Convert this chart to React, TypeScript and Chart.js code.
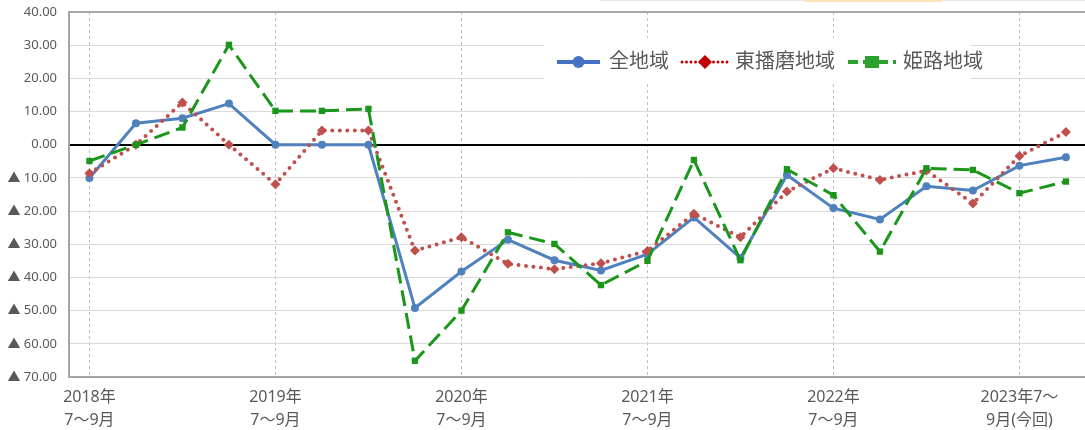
import { useEffect, useRef } from 'react';
import { Chart, registerables } from 'chart.js';

Chart.register(...registerables);

// Quarterly periods on the horizontal axis (one point per quarter)
const periods: string[] = [
  '2018年7～9月', '2018年10～12月', '2019年1～3月', '2019年4～6月',
  '2019年7～9月', '2019年10～12月', '2020年1～3月', '2020年4～6月',
  '2020年7～9月', '2020年10～12月', '2021年1～3月', '2021年4～6月',
  '2021年7～9月', '2021年10～12月', '2022年1～3月', '2022年4～6月',
  '2022年7～9月', '2022年10～12月', '2023年1～3月', '2023年4～6月',
  '2023年7～9月(今回)', '2023年10～12月',
];

// Labelled positions on the horizontal axis and their two-line captions
const xTickIndex: number[] = [0, 4, 8, 12, 16, 20];
const xTickLabels: string[][] = [
  ['2018年', '7～9月'],
  ['2019年', '7～9月'],
  ['2020年', '7～9月'],
  ['2021年', '7～9月'],
  ['2022年', '7～9月'],
  ['2023年7～', '9月(今回)'],
];

// Series values
const seriesNames: string[] = ['全地域', '東播磨地域', '姫路地域'];
const allRegion: number[] = [
  -10.0, 6.5, 8.0, 12.4, 0.0, 0.0, 0.0, -49.2, -38.2, -28.6, -34.8,
  -37.9, -33.0, -21.9, -34.1, -9.1, -19.1, -22.5, -12.5, -13.8, -6.3, -3.8,
];
const higashiHarima: number[] = [
  -8.6, 0.0, 12.7, 0.0, -11.9, 4.3, 4.3, -31.9, -27.9, -35.9, -37.5,
  -35.7, -32.0, -20.8, -27.9, -14.1, -7.1, -10.6, -7.8, -17.7, -3.4, 3.8,
];
const himeji: number[] = [
  -4.9, 0.0, 5.2, 30.1, 10.2, 10.2, 10.8, -65.1, -50.0, -26.4, -29.9,
  -42.3, -35.0, -4.6, -34.8, -7.4, -15.2, -32.2, -7.1, -7.6, -14.6, -11.1,
];

// Value axis range
const yMin = -70;
const yMax = 40;
const yStep = 10;

const FONT = "'Noto Sans', 'Noto Sans CJK JP', sans-serif";
const TEXT_COLOR = '#595959';

const BLUE = '#4f81bd';
const RED = '#c0504d';
const GREEN = '#1a961a';

const toPoints = (vals: number[]) => vals.map((y, i) => ({ x: i, y }));

// Legend drawn inside the plot on a white panel
const legendPanel = {
  id: 'legendPanel',
  beforeDatasetsDraw(chart: Chart) {
    const ctx = chart.ctx;
    ctx.save();
    ctx.fillStyle = '#ffffff';
    ctx.fillRect(544, 38, 427, 44);

    const cy = 62;
    const items = [
      { x0: 557, x1: 600, tx: 609, color: '#4472c4', dash: [] as number[], cap: 'butt' as CanvasLineCap, marker: 'circle' },
      { x0: 682, x1: 728, tx: 735, color: '#c00000', dash: [0, 4.5], cap: 'round' as CanvasLineCap, marker: 'diamond' },
      { x0: 848, x1: 896, tx: 903, color: '#2ca02c', dash: [10, 5], cap: 'butt' as CanvasLineCap, marker: 'square' },
    ];
    items.forEach((it, i) => {
      ctx.strokeStyle = it.color;
      ctx.lineWidth = i === 1 ? 3 : 4;
      ctx.lineCap = it.cap;
      ctx.setLineDash(it.dash);
      ctx.beginPath();
      ctx.moveTo(it.x0, cy);
      ctx.lineTo(it.x1, cy);
      ctx.stroke();
      ctx.setLineDash([]);
      const mx = (it.x0 + it.x1) / 2;
      ctx.fillStyle = it.color;
      ctx.beginPath();
      if (it.marker === 'circle') {
        ctx.arc(mx, cy, 6, 0, Math.PI * 2);
      } else if (it.marker === 'diamond') {
        ctx.moveTo(mx, cy - 7);
        ctx.lineTo(mx + 7, cy);
        ctx.lineTo(mx, cy + 7);
        ctx.lineTo(mx - 7, cy);
        ctx.closePath();
      } else {
        ctx.rect(mx - 7, cy - 6, 14, 12);
      }
      ctx.fill();

      ctx.fillStyle = TEXT_COLOR;
      ctx.font = `20px ${FONT}`;
      ctx.textAlign = 'left';
      ctx.textBaseline = 'middle';
      ctx.fillText(seriesNames[i], it.tx, cy);
    });
    ctx.restore();
  },
  afterDraw(chart: Chart) {
    // thin frame edge along the very top
    const ctx = chart.ctx;
    ctx.save();
    ctx.fillStyle = '#e6e6e6';
    ctx.fillRect(600, 0, 485, 1);
    ctx.fillStyle = '#fde4b8';
    ctx.fillRect(805, 0, 137, 2);
    ctx.restore();
  },
};

export default function App() {
  const canvasRef = useRef<HTMLCanvasElement | null>(null);

  useEffect(() => {
    const canvas = canvasRef.current;
    if (!canvas) return;

    const chart = new Chart(canvas, {
      type: 'line',
      data: {
        datasets: [
          {
            label: seriesNames[0],
            data: toPoints(allRegion),
            borderColor: BLUE,
            backgroundColor: BLUE,
            borderWidth: 3,
            pointStyle: 'circle',
            pointRadius: 4,
            pointBorderWidth: 0,
            tension: 0,
            order: 2,
          },
          {
            label: seriesNames[1],
            data: toPoints(higashiHarima),
            borderColor: RED,
            backgroundColor: RED,
            borderWidth: 4,
            borderDash: [0, 7.5],
            borderCapStyle: 'round',
            pointStyle: 'rectRot',
            pointRadius: 5,
            pointBorderWidth: 0,
            tension: 0,
            order: 1,
          },
          {
            label: seriesNames[2],
            data: toPoints(himeji),
            borderColor: GREEN,
            backgroundColor: GREEN,
            borderWidth: 3,
            borderDash: [16, 7],
            pointStyle: 'rect',
            pointRadius: 4.5,
            pointBorderWidth: 0,
            tension: 0,
            order: 0,
          },
        ],
      },
      options: {
        animation: false,
        responsive: false,
        devicePixelRatio: 1,
        layout: { autoPadding: false, padding: { top: 12, left: 0, right: 0, bottom: 0 } },
        plugins: {
          legend: { display: false },
          tooltip: { enabled: false },
        },
        scales: {
          x: {
            type: 'linear',
            min: -0.44,
            max: 21.41,
            afterBuildTicks: (scale: any) => {
              scale.ticks = xTickIndex.map((v) => ({ value: v }));
            },
            afterFit: (scale: any) => {
              scale.height = 53;
              scale.paddingLeft = 0;
              scale.paddingRight = 0;
            },
            ticks: {
              autoSkip: false,
              maxRotation: 0,
              padding: 9,
              color: TEXT_COLOR,
              font: { size: 16, family: FONT, lineHeight: 1.44 },
              callback: (value: any) => {
                const k = xTickIndex.indexOf(Number(value));
                return k >= 0 ? xTickLabels[k] : '';
              },
            },
            grid: { drawTicks: false, color: '#bfbfbf', lineWidth: 1 },
            border: { color: '#a6a6a6', width: 2, dash: [3, 3] },
          },
          y: {
            min: yMin,
            max: yMax,
            afterFit: (scale: any) => {
              scale.width = 69;
              scale.paddingTop = 0;
              scale.paddingBottom = 0;
            },
            ticks: {
              stepSize: yStep,
              padding: 12,
              color: TEXT_COLOR,
              font: { size: 13, family: FONT },
              callback: (value: any) => {
                const v = Number(value);
                return v < 0 ? '▲ ' + Math.abs(v).toFixed(2) : v.toFixed(2);
              },
            },
            grid: {
              drawTicks: false,
              color: (ctx: any) => {
                const v = ctx.tick ? ctx.tick.value : null;
                if (v === 0) return '#000000';
                if (v === yMax) return '#a6a6a6';
                return '#d9d9d9';
              },
              lineWidth: (ctx: any) => {
                const v = ctx.tick ? ctx.tick.value : null;
                return v === 0 || v === yMax ? 2 : 1;
              },
            },
            border: { color: '#a6a6a6', width: 2 },
          },
        },
      },
      plugins: [legendPanel],
    });

    return () => chart.destroy();
  }, []);

  return (
    <div style={{ position: 'fixed', left: 0, top: 0, width: 1085, height: 430, background: '#ffffff' }}>
      <canvas ref={canvasRef} width={1085} height={430} />
    </div>
  );
}
